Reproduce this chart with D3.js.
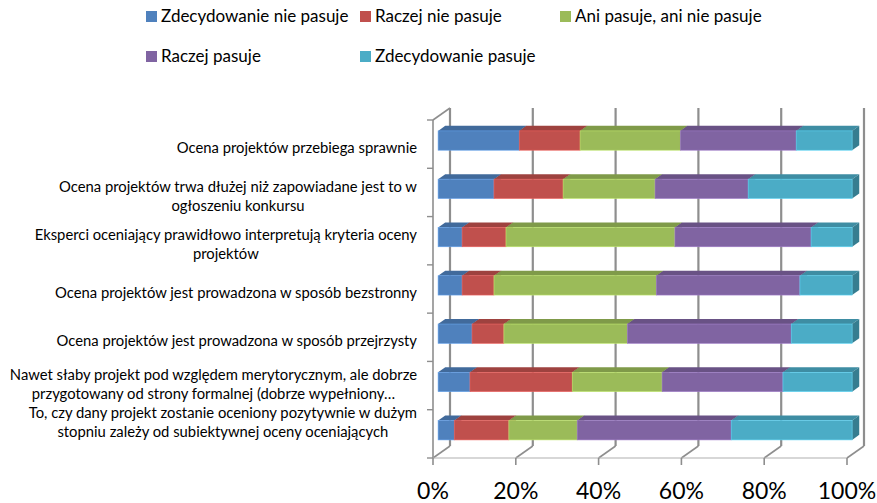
<!DOCTYPE html>
<html>
<head>
<meta charset="utf-8">
<script src="https://cdn.jsdelivr.net/npm/d3@7"></script>
<style>
  body { margin: 0; background: #fff; }
  text { font-family: Lato, "Open Sans", sans-serif; fill: #000; }
</style>
</head>
<body>
<div id="chart"></div>
<script>
// categories (top to bottom)
var categories = [
  ["Ocena projektów przebiega sprawnie"],
  ["Ocena projektów trwa dłużej niż zapowiadane jest to w", "ogłoszeniu konkursu"],
  ["Eksperci oceniający prawidłowo interpretują kryteria oceny", "projektów"],
  ["Ocena projektów jest prowadzona w sposób bezstronny"],
  ["Ocena projektów jest prowadzona w sposób przejrzysty"],
  ["Nawet słaby projekt pod względem merytorycznym, ale dobrze", "przygotowany od strony formalnej (dobrze wypełniony…"],
  ["To, czy dany projekt zostanie oceniony pozytywnie w dużym", "stopniu zależy od subiektywnej oceny oceniających"]
];

var seriesNames = ["Zdecydowanie nie pasuje", "Raczej nie pasuje", "Ani pasuje, ani nie pasuje", "Raczej pasuje", "Zdecydowanie pasuje"];

// series values (%)
var zdecydowanieNie = [19.6, 13.5, 5.8, 5.8, 8.2, 7.7, 3.9];
var raczejNie      = [14.7, 16.7, 10.6, 7.7, 7.7, 24.7, 13.2];
var ani            = [24.2, 22.2, 40.8, 39.2, 29.8, 21.7, 16.5];
var raczej         = [28.0, 22.5, 32.9, 34.7, 39.6, 29.2, 37.2];
var zdecydowanie   = [13.5, 25.1, 9.9, 12.6, 14.7, 16.7, 29.2];

var xTicks = [0, 20, 40, 60, 80, 100];

var colors = ["#4F81BD", "#C0504D", "#9BBB59", "#8064A2", "#4BACC6"];

var svgWidth = 877;
var svgHeight = 503;

var svg = d3.select("#chart")
  .append("svg")
  .attr("width", svgWidth)
  .attr("height", svgHeight);

// 3D depth offsets
var dX = 17, dY = -12;
var plotTop = 120, floorY = 458;

var keys = ["zn", "rn", "a", "r", "z"];
var rows = categories.map(function (c, i) {
  return { idx: i, zn: zdecydowanieNie[i], rn: raczejNie[i], a: ani[i], r: raczej[i], z: zdecydowanie[i] };
});
var stacked = d3.stack().keys(keys)(rows);

var xScale = d3.scaleLinear().domain([0, 100]).range([433, 847]);
var yScale = d3.scaleBand().domain(d3.range(categories.length)).range([plotTop, floorY]);

var gridColor = "#8e8e8e";

// back wall vertical gridlines + floor lines
var grid = svg.append("g");
xTicks.forEach(function (t) {
  var x = xScale(t);
  grid.append("line")
    .attr("x1", x + dX).attr("y1", plotTop + dY)
    .attr("x2", x + dX).attr("y2", floorY + dY)
    .attr("stroke", gridColor).attr("stroke-width", 2.2);
  grid.append("line")
    .attr("x1", x + dX).attr("y1", floorY + dY)
    .attr("x2", x).attr("y2", floorY)
    .attr("stroke", gridColor).attr("stroke-width", 1.6);
});

// left wall
grid.append("line")
  .attr("x1", xScale(0)).attr("y1", plotTop)
  .attr("x2", xScale(0)).attr("y2", floorY)
  .attr("stroke", gridColor).attr("stroke-width", 1.6);
grid.append("line")
  .attr("x1", xScale(0)).attr("y1", plotTop)
  .attr("x2", xScale(0) + dX).attr("y2", plotTop + dY)
  .attr("stroke", gridColor).attr("stroke-width", 1.6);

// front floor edge
grid.append("line")
  .attr("x1", xScale(0)).attr("y1", floorY)
  .attr("x2", xScale(100)).attr("y2", floorY)
  .attr("stroke", "#b0b0b0").attr("stroke-width", 1.2);

// category ticks on left
d3.range(categories.length + 1).forEach(function (i) {
  var y = plotTop + i * yScale.step();
  grid.append("line")
    .attr("x1", xScale(0) - 6).attr("y1", y)
    .attr("x2", xScale(0)).attr("y2", y)
    .attr("stroke", gridColor).attr("stroke-width", 1.4);
});

// x axis ticks and labels
xTicks.forEach(function (t) {
  grid.append("line")
    .attr("x1", xScale(t)).attr("y1", floorY)
    .attr("x2", xScale(t)).attr("y2", floorY + 7)
    .attr("stroke", gridColor).attr("stroke-width", 1.6);
  svg.append("text")
    .attr("x", xScale(t))
    .attr("y", 499)
    .attr("text-anchor", "middle")
    .style("font-size", "23px")
    .text(t + "%");
});

// bars
var d0 = 0.3, d1 = 0.72;
var barH = yScale.bandwidth() * 0.4;

function shade(c, k) { return d3.color(c).darker(k).formatHex(); }

var barsG = svg.append("g");
rows.forEach(function (row, i) {
  var yc = yScale(i) + yScale.bandwidth() / 2;
  var yTop = yc - barH / 2 + d0 * dY;
  var yBot = yc + barH / 2 + d0 * dY;
  var ox = d0 * dX;
  var ddx = (d1 - d0) * dX, ddy = (d1 - d0) * dY;
  stacked.forEach(function (s, k) {
    var x0 = xScale(s[i][0]) + ox;
    var x1 = xScale(s[i][1]) + ox;
    var col = colors[k];
    // top face
    barsG.append("path")
      .attr("d", "M" + x0 + "," + yTop + "L" + (x0 + ddx) + "," + (yTop + ddy) +
        "L" + (x1 + ddx) + "," + (yTop + ddy) + "L" + x1 + "," + yTop + "Z")
      .attr("fill", shade(col, 0.55));
    // right face
    barsG.append("path")
      .attr("d", "M" + x1 + "," + yTop + "L" + (x1 + ddx) + "," + (yTop + ddy) +
        "L" + (x1 + ddx) + "," + (yBot + ddy) + "L" + x1 + "," + yBot + "Z")
      .attr("fill", shade(col, 0.9));
    // front face
    barsG.append("rect")
      .attr("x", x0).attr("y", yTop)
      .attr("width", x1 - x0).attr("height", yBot - yTop)
      .attr("fill", col)
      .attr("stroke", d3.color(col).brighter(0.6).formatHex())
      .attr("stroke-width", 0.6);
  });
});

// category labels (block right aligned, lines centred in block)
// placed bottom-up so blocks never overlap
var lineH = 19;
var labelRight = 417;
var limit = floorY - 26;
for (var i = categories.length - 1; i >= 0; i--) {
  var lines = categories[i];
  var yc = yScale(i) + yScale.bandwidth() / 2 + 3.5;
  var firstY = yc - (lines.length - 1) * lineH / 2;
  var lastY = firstY + (lines.length - 1) * lineH;
  if (lastY > limit) {
    firstY -= lastY - limit;
  }
  limit = firstY - lineH;
  var g = svg.append("g");
  var texts = lines.map(function (l, j) {
    return g.append("text")
      .attr("y", firstY + j * lineH)
      .attr("dy", "0.35em")
      .attr("text-anchor", "middle")
      .style("font-size", "14.8px")
      .text(l);
  });
  var w = d3.max(texts, function (t) { return t.node().getComputedTextLength(); });
  texts.forEach(function (t) { t.attr("x", labelRight - w / 2); });
}

// legend
var legendPos = [[146, 22], [360, 22], [560, 22], [146, 62], [360, 62]];
seriesNames.forEach(function (name, k) {
  var p = legendPos[k];
  svg.append("rect")
    .attr("x", p[0]).attr("y", p[1] - 11)
    .attr("width", 11).attr("height", 11)
    .attr("fill", colors[k]);
  svg.append("text")
    .attr("x", p[0] + 15)
    .attr("y", p[1])
    .style("font-size", "17px")
    .text(name);
});
</script>
</body>
</html>
